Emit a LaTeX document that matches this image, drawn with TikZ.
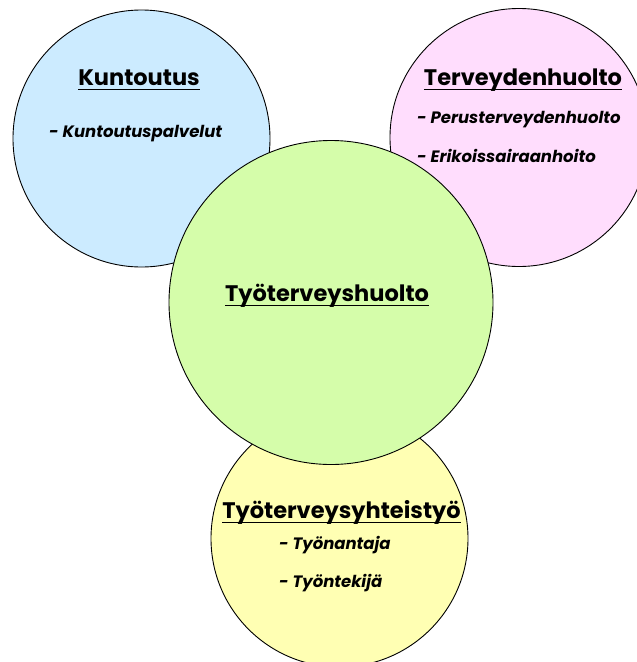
\documentclass[tikz,border=0pt]{standalone}
\usepackage{fontspec}
\setmainfont{Poppins}
\definecolor{rehab}{HTML}{CCEBFF}
\definecolor{care}{HTML}{FFDDFD}
\definecolor{occup}{HTML}{D5FDAA}
\definecolor{coop}{HTML}{FFFFB3}
% heading with a thick underline just below the baseline (descenders cross it)
\newcommand\headline[1]{\leavevmode\setbox0\hbox{#1}\dp0=0pt\vtop{\box0\kern3.5pt\hrule height 1.8pt}}
\tikzset{
  sphere/.style={circle, draw=black, line width=0.9pt, inner sep=0pt, minimum size=#1},
  heading/.style={inner sep=0pt, anchor=base, font=\fontsize{22.5}{27}\selectfont\bfseries},
  item/.style={inner sep=0pt, anchor=base west, font=\fontsize{16.5}{20}\selectfont\bfseries\itshape},
}
\begin{document}
\begin{tikzpicture}[x=1pt,y=-1pt]
\useasboundingbox (0,0) rectangle (637,662);
\node[sphere=257pt, fill=rehab] (rehab) at (141.5,138.5) {};
\node[sphere=258pt, fill=care] (care) at (519,137.5) {};
\node[sphere=257pt, fill=coop] (coop) at (339.5,538.5) {};
\node[sphere=324pt, fill=occup] (occup) at (331,302.5) {};

\node[heading] (rehabT) at (139,85) {\headline{Kuntoutus}};
\node[item] (rehab1) at (49,137) {- Kuntoutuspalvelut};

\node[heading] (careT) at (523,85) {\headline{Terveydenhuolto}};
\node[item] (care1) at (417,123) {- Perusterveydenhuolto};
\node[item] (care2) at (417,162) {- Erikoissairaanhoito};

\node[heading] (occupT) at (327,301) {\headline{Työterveyshuolto}};

\node[heading] (coopT) at (341.5,518) {\headline{Työterveysyhteistyö}};
\node[item] (coop1) at (279,549) {- Työnantaja};
\node[item] (coop2) at (279,587) {- Työntekijä};
\end{tikzpicture}
\end{document}
